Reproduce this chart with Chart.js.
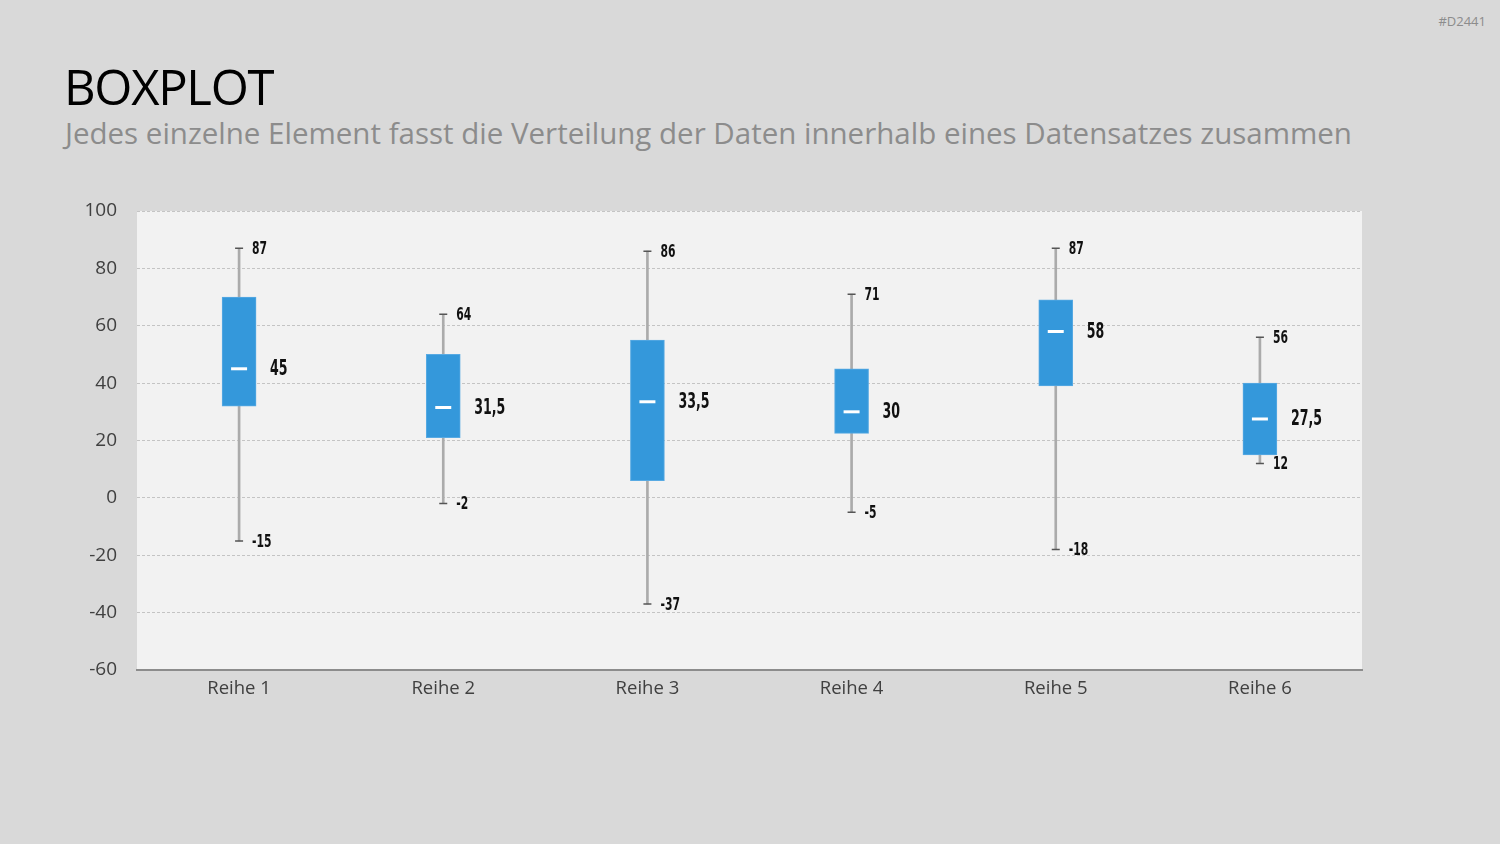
<!DOCTYPE html>
<html>
<head>
<meta charset="utf-8">
<script src="https://cdn.jsdelivr.net/npm/chart.js@4.4.0/dist/chart.umd.min.js"></script>
<style>
  html, body { margin: 0; padding: 0; background: #d9d9d9; width: 1500px; height: 844px; overflow: hidden; }
  #title { position: absolute; left: 64px; top: 53px; font-family: "Open Sans", sans-serif; font-size: 49px; color: #000; letter-spacing: -1.3px; }
  #subtitle { position: absolute; left: 65px; top: 112px; font-family: "Open Sans", sans-serif; font-size: 29.5px; color: #8c8c8c; }
  #code { position: absolute; right: 14px; top: 12px; font-family: "Open Sans", sans-serif; font-size: 13px; color: #8c8c8c; }
  #wrap { position: absolute; left: 0; top: 0; width: 1500px; height: 844px; }
</style>
</head>
<body>
<div id="title">BOXPLOT</div>
<div id="subtitle">Jedes einzelne Element fasst die Verteilung der Daten innerhalb eines Datensatzes zusammen</div>
<div id="code">#D2441</div>
<div id="wrap"><canvas id="c" width="1500" height="844"></canvas></div>
<script>
const categories = ['Reihe 1', 'Reihe 2', 'Reihe 3', 'Reihe 4', 'Reihe 5', 'Reihe 6'];
const minValues = [-15, -2, -37, -5, -18, 12];
const q1Values = [32, 21, 6, 22.5, 39, 15];
const medianValues = [45, 31.5, 33.5, 30, 58, 27.5];
const q3Values = [70, 50, 55, 45, 69, 40];
const maxValues = [87, 64, 86, 71, 87, 56];
const yTicks = [-60, -40, -20, 0, 20, 40, 60, 80, 100];

const fmt = v => String(v).replace('.', ',');

const bgPlugin = {
  id: 'bg',
  beforeDraw(chart) {
    const a = chart.chartArea, ctx = chart.ctx;
    ctx.save();
    ctx.fillStyle = '#f2f2f2';
    ctx.fillRect(a.left, a.top, a.right - a.left, a.bottom - a.top);
    ctx.restore();
  }
};

function narrowText(ctx, text, x, y, size, squeeze) {
  ctx.save();
  ctx.font = 'bold ' + size + 'px "DejaVu Sans", sans-serif';
  ctx.translate(x, y);
  ctx.scale(squeeze, 1);
  ctx.fillText(text, 0, 0);
  ctx.restore();
}

const labelPlugin = {
  id: 'boxLabels',
  afterDatasetsDraw(chart) {
    const ctx = chart.ctx, xs = chart.scales.x, ys = chart.scales.y;
    ctx.save();
    ctx.fillStyle = '#111';
    ctx.textBaseline = 'middle';
    ctx.textAlign = 'left';
    categories.forEach((c, i) => {
      const x = xs.getPixelForValue(i);
      narrowText(ctx, fmt(maxValues[i]), x + 13, ys.getPixelForValue(maxValues[i]) + 1, 18, 0.6);
      narrowText(ctx, fmt(minValues[i]), x + 13, ys.getPixelForValue(minValues[i]) + 1, 18, 0.6);
      narrowText(ctx, fmt(medianValues[i]), x + 31, ys.getPixelForValue(medianValues[i]) + 1, 21, 0.6);
    });
    ctx.restore();
  }
};

new Chart(document.getElementById('c'), {
  data: {
    labels: categories,
    datasets: [
      {
        type: 'bar',
        label: 'Whisker',
        data: categories.map((c, i) => [minValues[i], maxValues[i]]),
        backgroundColor: '#ababab',
        barThickness: 2,
        grouped: false,
        order: 4
      },
      {
        type: 'line',
        label: 'Max',
        data: maxValues,
        showLine: false,
        pointStyle: 'line',
        pointRadius: 4,
        borderWidth: 1.5,
        borderColor: '#555555',
        order: 3
      },
      {
        type: 'line',
        label: 'Min',
        data: minValues,
        showLine: false,
        pointStyle: 'line',
        pointRadius: 4,
        borderWidth: 1.5,
        borderColor: '#555555',
        order: 3
      },
      {
        type: 'bar',
        label: 'Box',
        data: categories.map((c, i) => [q1Values[i], q3Values[i]]),
        backgroundColor: '#3498db',
        borderColor: '#58aae3',
        borderWidth: 1,
        borderSkipped: false,
        barThickness: 34,
        grouped: false,
        order: 2
      },
      {
        type: 'line',
        label: 'Median',
        data: medianValues,
        showLine: false,
        pointStyle: 'line',
        pointRadius: 8,
        borderWidth: 3,
        borderColor: '#ffffff',
        order: 1
      }
    ]
  },
  options: {
    responsive: false,
    animation: false,
    events: [],
    layout: { padding: { left: 57, top: 211, right: 138, bottom: 134 } },
    plugins: { legend: { display: false }, tooltip: { enabled: false } },
    scales: {
      x: {
        type: 'category',
        offset: true,
        grid: { display: false, drawTicks: false },
        border: { display: true, color: '#8c8c8c', width: 2 },
        ticks: { color: '#404040', font: { family: '"Open Sans", sans-serif', size: 18.5 }, padding: 8 },
        afterFit(s) { s.height = 40; }
      },
      y: {
        min: -60,
        max: 100,
        afterBuildTicks(s) { s.ticks = yTicks.map(v => ({ value: v })); },
        grid: { color: '#c4c4c4', lineWidth: 1, drawTicks: false },
        border: { display: false, dash: [3, 2] },
        ticks: { color: '#404040', font: { family: '"Open Sans", sans-serif', size: 19 }, padding: 20 },
        afterFit(s) { s.width = 80; }
      }
    }
  },
  plugins: [bgPlugin, labelPlugin]
});
</script>
</body>
</html>
